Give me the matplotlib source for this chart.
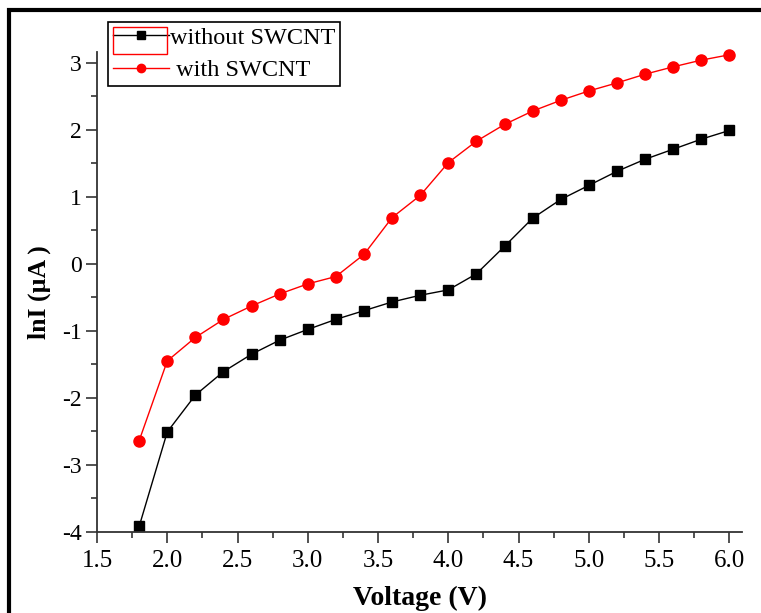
import matplotlib
matplotlib.use("Agg")
import matplotlib.pyplot as plt
from matplotlib.patches import Rectangle
from matplotlib.ticker import MultipleLocator, FormatStrFormatter

voltage = [1.8, 2.0, 2.2, 2.4, 2.6, 2.8, 3.0, 3.2, 3.4, 3.6, 3.8,
           4.0, 4.2, 4.4, 4.6, 4.8, 5.0, 5.2, 5.4, 5.6, 5.8, 6.0]
without_swcnt = [-3.92, -2.51, -1.96, -1.61, -1.35, -1.14, -0.98, -0.83, -0.70, -0.57, -0.47,
                 -0.39, -0.15, 0.26, 0.68, 0.96, 1.17, 1.38, 1.56, 1.71, 1.86, 1.99]
with_swcnt = [-2.64, -1.45, -1.10, -0.83, -0.63, -0.45, -0.30, -0.19, 0.14, 0.69, 1.02,
              1.51, 1.83, 2.08, 2.28, 2.44, 2.58, 2.70, 2.83, 2.94, 3.04, 3.12]

plt.rcParams['font.family'] = ['Liberation Serif', 'DejaVu Serif']
plt.rcParams['axes.unicode_minus'] = False

fig = plt.figure(figsize=(7.61, 6.13), dpi=100)
ax = fig.add_axes([0.1275, 0.1326, 0.975 - 0.1275, 0.915 - 0.1326])

ax.plot(voltage, without_swcnt, color='black', lw=1, marker='s', ms=7.5,
        label='without SWCNT', clip_on=False)
ax.plot(voltage, with_swcnt, color='red', lw=1, marker='o', ms=8,
        label=' with SWCNT', clip_on=False)

ax.set_xlim(1.5, 6.09)
ax.set_ylim(-4, 3.16)
ax.spines['top'].set_visible(False)
ax.spines['right'].set_visible(False)
for s in ['left', 'bottom']:
    ax.spines[s].set_color('#333333')
    ax.spines[s].set_linewidth(1.3)

ax.xaxis.set_major_locator(MultipleLocator(0.5))
ax.xaxis.set_minor_locator(MultipleLocator(0.25))
ax.xaxis.set_major_formatter(FormatStrFormatter('%.1f'))
ax.yaxis.set_major_locator(MultipleLocator(1))
ax.yaxis.set_minor_locator(MultipleLocator(0.5))
ax.tick_params(which='major', length=8, width=1.2, color='#333333')
ax.tick_params(which='minor', length=4.5, width=1.2, color='#333333')
ax.tick_params(axis='x', labelsize=18, pad=5)
ax.tick_params(axis='y', labelsize=17, pad=3)

ax.set_xlabel('Voltage (V)', fontsize=20, fontweight='bold', labelpad=10)
ax.set_ylabel('lnI (\u00b5A )', fontsize=18.5, fontweight='bold', labelpad=8)

leg = ax.legend(loc='upper left', bbox_to_anchor=(108 / 761, 1 - 22 / 613),
                bbox_transform=fig.transFigure, fontsize=17.5, frameon=True,
                fancybox=False, edgecolor='black', framealpha=1,
                handlelength=2.3, handletextpad=0.05, borderpad=0.2,
                labelspacing=0.42, borderaxespad=0, markerscale=0.75)
leg.get_frame().set_linewidth(1.2)

# red selection box around the first legend handle
fig.add_artist(Rectangle((113 / 761, 1 - 54 / 613), 54 / 761, 27 / 613,
                         transform=fig.transFigure, fill=False,
                         edgecolor='red', lw=1))

# outer frame (top and left visible)
fig.add_artist(Rectangle((9 / 761, -0.05), 1.1, 1 - 10 / 613 + 0.05,
                         transform=fig.transFigure, fill=False,
                         edgecolor='black', lw=3))

fig.savefig('out.png', dpi=100)
